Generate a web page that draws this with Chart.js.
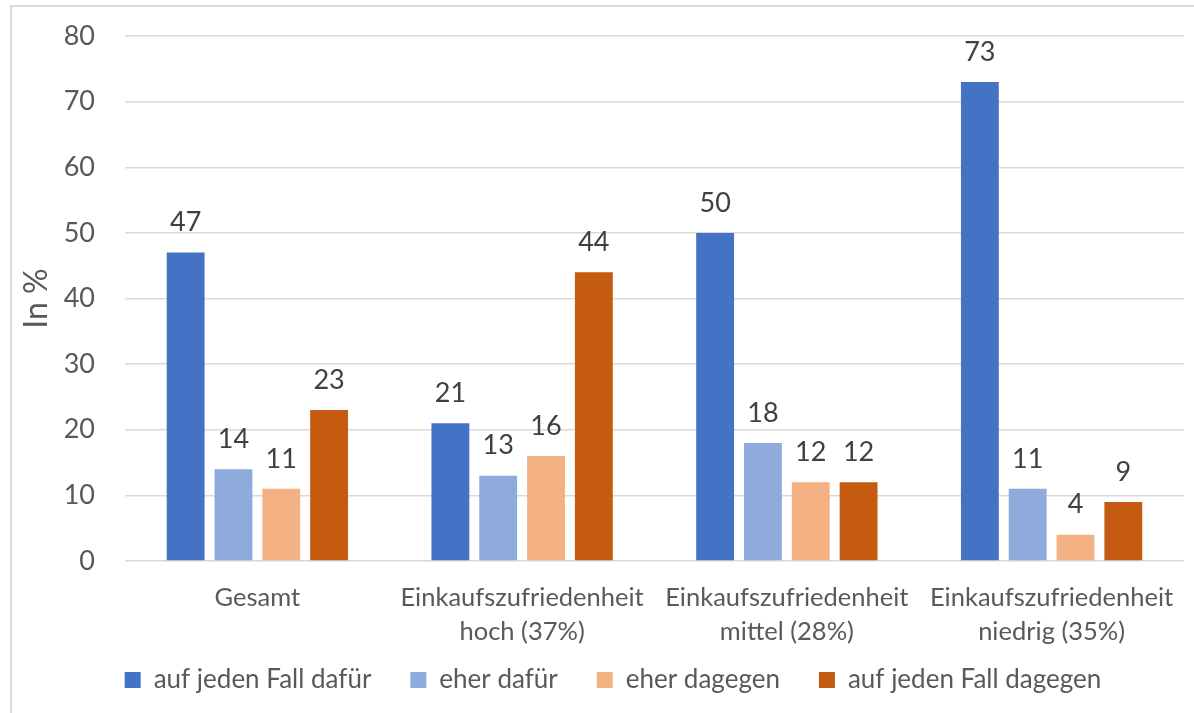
<!DOCTYPE html>
<html lang="de">
<head>
<meta charset="utf-8">
<title>Einkaufszufriedenheit</title>
<script src="https://cdn.jsdelivr.net/npm/chart.js@4.4.1/dist/chart.umd.min.js"></script>
<style>
  html, body { margin: 0; padding: 0; background: #fff; }
  #wrap { position: relative; width: 1194px; height: 713px; overflow: hidden; }
  #frame {
    position: absolute; left: 10px; top: 5px; width: 1220px; height: 740px;
    border-left: 2px solid #d9d9d9; border-top: 2px solid #d9d9d9;
  }
  #myChart { position: absolute; left: 0; top: 0; }
</style>
</head>
<body>
<div id="wrap">
  <div id="frame"></div>
  <canvas id="myChart" width="1194" height="713"></canvas>
</div>
<script>
'use strict';

// chart data
let categories = [
  'Gesamt',
  ['Einkaufszufriedenheit', 'hoch (37%)'],
  ['Einkaufszufriedenheit', 'mittel (28%)'],
  ['Einkaufszufriedenheit', 'niedrig (35%)']
];
let seriesNames = ['auf jeden Fall dafür', 'eher dafür', 'eher dagegen', 'auf jeden Fall dagegen'];
let seriesColors = ['#4472C4', '#8FAADC', '#F4B183', '#C55A11'];

let jedenFallDafuer = [47, 21, 50, 73];
let eherDafuer = [14, 13, 18, 11];
let eherDagegen = [11, 16, 12, 4];
let jedenFallDagegen = [23, 44, 12, 9];

let yTicks = [0, 10, 20, 30, 40, 50, 60, 70, 80];

let ctx = document.getElementById('myChart');

// numbers above the bars
let valueLabels = {
  id: 'valueLabels',
  afterDatasetsDraw(chart) {
    let c = chart.ctx;
    c.save();
    c.font = '27px Lato';
    c.fillStyle = '#404040';
    c.textAlign = 'center';
    c.textBaseline = 'middle';
    chart.data.datasets.forEach(function(ds, i) {
      let meta = chart.getDatasetMeta(i);
      meta.data.forEach(function(bar, j) {
        c.fillText(String(ds.data[j]), bar.x, bar.y - 30);
      });
    });
    c.restore();
  }
};

// pull the legend up so it sits closer to the two-line axis labels
let legendLift = {
  id: 'legendLift',
  afterLayout(chart) {
    chart.legend.top -= 28;
    chart.legend.bottom -= 28;
  }
};

let allSeries = [jedenFallDafuer, eherDafuer, eherDagegen, jedenFallDagegen];
let datasets = [];
for (let i = 0; i < allSeries.length; i++) {
  datasets.push({
    label: seriesNames[i],
    data: allSeries[i],
    backgroundColor: seriesColors[i],
    borderWidth: 0,
    barPercentage: 0.7917,
    categoryPercentage: 0.7225
  });
}

let myChartObj = {
  type: 'bar',
  data: {
    labels: categories,
    datasets: datasets
  },
  plugins: [valueLabels, legendLift],
  options: {
    responsive: false,
    animation: false,
    devicePixelRatio: 1,
    layout: {
      padding: { left: 38, right: 6, top: 36, bottom: -18 }
    },
    plugins: {
      tooltip: { enabled: false },
      legend: {
        position: 'bottom',
        labels: {
          boxWidth: 16,
          boxHeight: 16,
          padding: 39,
          color: '#595959',
          font: { family: 'Lato', size: 26 }
        }
      }
    },
    scales: {
      x: {
        grid: { display: false, drawTicks: false },
        border: { display: false },
        ticks: {
          color: '#595959',
          padding: 20,
          maxRotation: 0,
          autoSkip: false,
          font: { family: 'Lato', size: 25.5, lineHeight: 1.34 }
        },
        afterFit: function(scale) {
          scale.height = 95;
        }
      },
      y: {
        min: 0,
        max: 80,
        afterBuildTicks: function(scale) {
          scale.ticks = yTicks.map(function(v) { return { value: v }; });
        },
        afterFit: function(scale) {
          scale.width = 87;
        },
        grid: {
          color: '#d9d9d9',
          lineWidth: 1.5,
          drawTicks: true,
          tickLength: 30,
          tickColor: 'rgba(0,0,0,0)'
        },
        border: { display: false },
        ticks: {
          color: '#595959',
          padding: 0,
          font: { family: 'Lato', size: 27 }
        },
        title: {
          display: true,
          text: 'In %',
          color: '#595959',
          padding: { top: -21, bottom: 0 },
          font: { family: 'Lato', size: 32 }
        }
      }
    }
  }
};

new Chart(ctx, myChartObj);
</script>
</body>
</html>
